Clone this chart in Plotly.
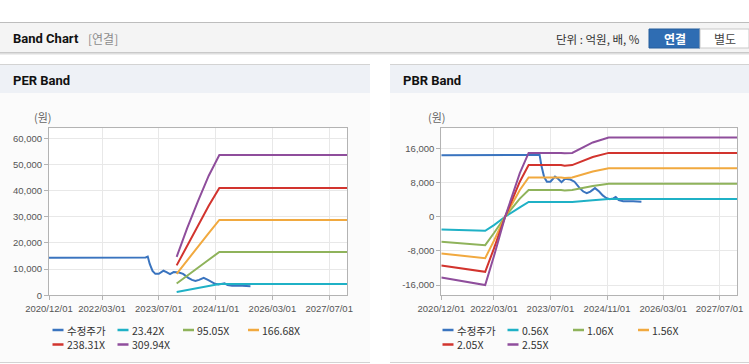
import plotly.graph_objects as go

# ---------------- data ----------------
x_tick_vals = ["2020-12-01", "2022-03-01", "2023-07-01", "2024-11-01", "2026-03-01", "2027-07-01"]
x_tick_text = ["2020/12/01", "2022/03/01", "2023/07/01", "2024/11/01", "2026/03/01", "2027/07/01"]

per_y_ticks = [0, 10000, 20000, 30000, 40000, 50000, 60000]
per_y_text = ["0", "10,000", "20,000", "30,000", "40,000", "50,000", "60,000"]
pbr_y_ticks = [-16000, -8000, 0, 8000, 16000]
pbr_y_text = ["-16,000", "-8,000", "0", "8,000", "16,000"]

price_dates = ["2020-12-01", "2023-03-10", "2023-03-28", "2023-04-14", "2023-05-08", "2023-06-01",
               "2023-07-01", "2023-08-10", "2023-09-05", "2023-10-05", "2023-11-05", "2023-12-20",
               "2024-01-25", "2024-02-20", "2024-03-10", "2024-04-10", "2024-05-10", "2024-06-10",
               "2024-07-20", "2024-08-25", "2024-09-25", "2024-10-25", "2024-11-25", "2024-12-25",
               "2025-01-15", "2025-02-10", "2025-03-20", "2025-06-15", "2025-08-25"]
price = [14400, 14450, 14800, 12000, 9300, 8200,
         8200, 9400, 8900, 8100, 8900, 8700,
         8200, 7200, 6700, 5900, 5500, 5900,
         6700, 5900, 5000, 4400, 4100, 4300,
         4600, 3900, 3650, 3650, 3500]

per_dates = ["2023-12-01", "2024-03-01", "2024-06-01", "2024-09-01", "2024-12-01", "2027-12-01"]
per_names = ["23.42X", "95.05X", "166.68X", "238.31X", "309.94X"]
per_2342 = [1270, 2000, 2750, 3500, 4300, 4300]
per_9505 = [4500, 7400, 10500, 13600, 16550, 16550]
per_16668 = [8200, 13500, 18700, 23800, 28800, 28800]
per_23831 = [11450, 19000, 26800, 34200, 41000, 41000]
per_30994 = [14700, 25800, 36000, 45700, 53600, 53600]

pbr_dates = ["2020-12-01", "2021-12-15", "2022-03-01", "2022-06-05", "2022-10-10", "2022-12-25",
             "2023-10-01", "2023-11-01", "2024-01-05", "2024-07-01", "2024-11-15", "2027-12-01"]
pbr_names = ["0.56X", "1.06X", "1.56X", "2.05X", "2.55X"]
pbr_056 = [-3000, -3300, -1950, 0, 2200, 3450, 3450, 3420, 3450, 3850, 4150, 4150]
pbr_106 = [-5850, -6650, -3800, 0, 4250, 6250, 6250, 6170, 6250, 7200, 7750, 7750]
pbr_156 = [-8600, -9700, -5600, 0, 6250, 9200, 9200, 9080, 9200, 10600, 11350, 11350]
pbr_205 = [-11400, -12900, -7400, 0, 8200, 12100, 12100, 11930, 12100, 14000, 14950, 14950]
pbr_255 = [-14200, -16000, -9200, 0, 10200, 14950, 14950, 14850, 14950, 17400, 18550, 18550]

price_name = "수정주가"

# ---------------- style ----------------
W, H = 749, 364
C_PRICE = "#3a74bf"
BAND_COLORS = ["#1fb1c6", "#8fb35b", "#f1a93f", "#d2342e", "#8f4e9c"]
FONT = "Liberation Sans, Noto Sans CJK KR, sans-serif"
KFONT = "Noto Sans CJK KR, sans-serif"


def px(x):
    return x / W


def py(y):
    return 1 - y / H


fig = go.Figure()

# PER traces
fig.add_trace(go.Scatter(x=price_dates, y=price, mode="lines", name=price_name,
                         line=dict(color=C_PRICE, width=2), xaxis="x", yaxis="y"))
for name, vals, col in zip(per_names, [per_2342, per_9505, per_16668, per_23831, per_30994], BAND_COLORS):
    fig.add_trace(go.Scatter(x=per_dates, y=vals, mode="lines", name=name,
                             line=dict(color=col, width=2), xaxis="x", yaxis="y"))

# PBR traces
fig.add_trace(go.Scatter(x=price_dates, y=price, mode="lines", name=price_name,
                         line=dict(color=C_PRICE, width=2), xaxis="x2", yaxis="y2"))
for name, vals, col in zip(pbr_names, [pbr_056, pbr_106, pbr_156, pbr_205, pbr_255], BAND_COLORS):
    fig.add_trace(go.Scatter(x=pbr_dates, y=vals, mode="lines", name=name,
                             line=dict(color=col, width=2), xaxis="x2", yaxis="y2"))

# ---------------- page shapes ----------------
shapes = []


def rect(x0, y0, x1, y1, fill, line_color=None, lw=0):
    shapes.append(dict(type="rect", xref="paper", yref="paper", layer="below",
                       x0=px(x0), x1=px(x1), y0=py(y1), y1=py(y0), fillcolor=fill,
                       line=dict(color=line_color or fill, width=lw)))


def hline(x0, x1, y, color, lw=1, layer="below"):
    shapes.append(dict(type="line", xref="paper", yref="paper", layer=layer,
                       x0=px(x0), x1=px(x1), y0=py(y), y1=py(y), line=dict(color=color, width=lw)))


# top header bar
rect(0, 22, 749, 52, "#f4f4f4")
hline(0, 749, 22.5, "#bdbdbd")
hline(0, 749, 52.5, "#c9c9c9")
hline(0, 749, 53.5, "#dedede")
hline(0, 749, 54.5, "#eeeeee")
# buttons
rect(649, 29, 700, 48, "#2f6db3", "#275e9c", 1)
rect(700, 29, 749, 48, "#ffffff", "#c8c8c8", 1)

# panels
for (a, b) in [(0, 370), (390, 749)]:
    rect(a, 64, b, 93, "#eef1f6")
    rect(a, 93, b, 362, "#fbfbfb")
    hline(a, b, 64.5, "#d3d3d3")
    hline(a, b, 362.5, "#d3d3d3")

# white plot backgrounds
rect(49, 128.3, 347, 295.3, "#ffffff")
rect(441.3, 128.3, 737.3, 295.3, "#ffffff")

# ---------------- annotations ----------------
ann = []


def text(x, y, s, size=12, color="#222", bold=False, anchor="left", family=FONT, pad=1):
    if bold:
        s = "<b>" + s + "</b>"
    ann.append(dict(xref="paper", yref="paper", x=px(x), y=py(y), text=s, showarrow=False,
                    xanchor=anchor, yanchor="middle", borderpad=pad,
                    font=dict(size=size, color=color, family=family)))


text(11, 39, "Band Chart", 13, "#111", True, family="Roboto, Noto Sans CJK KR")
text(86, 39, "[연결]", 12, "#8c8c8c", family=KFONT)
text(642, 39, "단위 : 억원, 배, %", 11.5, "#333", anchor="right", family=KFONT)
text(674.5, 39, "연결", 12, "#ffffff", True, anchor="center", family=KFONT)
text(724.5, 39, "별도", 12, "#444", anchor="center", family=KFONT)
text(11, 80, "PER Band", 13, "#111", True, family="Roboto, Noto Sans CJK KR")
text(401, 80, "PBR Band", 13, "#111", True, family="Roboto, Noto Sans CJK KR")
text(43, 117, "(원)", 11, "#666", anchor="center", family=KFONT)
text(437, 117, "(원)", 11, "#666", anchor="center", family=KFONT)

# legends (drawn as keys + labels)
per_leg_labels = [price_name] + per_names
pbr_leg_labels = [price_name] + pbr_names
leg_colors = [C_PRICE] + BAND_COLORS
slots = [(0, 330), (65, 330), (130.5, 330), (195.5, 330), (0, 344.5), (65, 344.5)]
for base, labels in [(52.5, per_leg_labels), (442.5, pbr_leg_labels)]:
    for (dx, yy), lab, col in zip(slots, labels, leg_colors):
        x0 = base + dx
        hline(x0, x0 + 11, yy, col, 2.5, layer="above")
        text(x0 + 13, yy, lab, 10.5, "#333", family=KFONT, pad=0)

# ---------------- axes ----------------
ydom = [py(295.33), py(128.33)]
xcommon = dict(type="date", range=["2020-12-01", "2027-12-01"], tickvals=x_tick_vals, ticktext=x_tick_text,
               showgrid=True, gridcolor="#e8e8e8", gridwidth=1, showline=True, linecolor="#b3b3b3",
               mirror=True, ticks="outside", ticklen=4, tickcolor="#b3b3b3", automargin=False,
               tickfont=dict(size=9.5, color="#555", family=FONT), zeroline=False, fixedrange=True)
ycommon = dict(showgrid=True, gridcolor="#e8e8e8", gridwidth=1, showline=True, linecolor="#b3b3b3",
               mirror=True, ticks="outside", ticklen=4, tickcolor="#b3b3b3", automargin=False,
               tickfont=dict(size=9.5, color="#555", family=FONT), zeroline=False, fixedrange=True)

fig.update_layout(
    width=W, height=H, autosize=False,
    margin=dict(l=0, r=0, t=0, b=0, pad=0, autoexpand=False),
    paper_bgcolor="#ffffff", plot_bgcolor="rgba(0,0,0,0)",
    showlegend=False,
    font=dict(family=FONT),
    xaxis=dict(domain=[px(49), px(347)], anchor="y", **xcommon),
    yaxis=dict(domain=ydom, anchor="x", range=[0, 63800], tickvals=per_y_ticks, ticktext=per_y_text, **ycommon),
    xaxis2=dict(domain=[px(441.3), px(737.3)], anchor="y2", **xcommon),
    yaxis2=dict(domain=ydom, anchor="x2", range=[-18400, 20700], tickvals=pbr_y_ticks, ticktext=pbr_y_text, **ycommon),
    shapes=shapes,
    annotations=ann,
)

fig.write_html("out.html", config={"displayModeBar": False},
               post_script="document.body.style.margin='0';document.body.style.overflow='hidden';")
